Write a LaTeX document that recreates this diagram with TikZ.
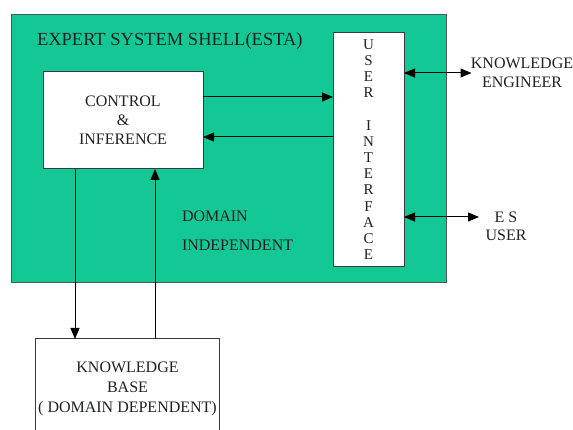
\documentclass[tikz,border=0pt]{standalone}
\usepackage{fontspec}
\setmainfont{Liberation Serif}
\usetikzlibrary{arrows.meta}
\definecolor{shellGreen}{HTML}{14C896}
\definecolor{shellEdge}{HTML}{4A5A55}
\definecolor{boxEdge}{HTML}{3A3A3A}
\definecolor{textDark}{HTML}{1E2220}
\tikzset{
  esta diagram/.style={
    x=1pt, y=-1pt, line width=1pt,
    >={Triangle[length=11pt,width=9pt]},
    every node/.style={text=textDark, inner sep=0pt, outer sep=0pt,
      font=\fontsize{16}{19}\selectfont}
  },
  esta box/.style={draw=boxEdge, fill=white, rectangle, align=center},
  esta link/.style={draw=black, line width=1pt}
}
\begin{document}
\begin{tikzpicture}[esta diagram]
    \useasboundingbox (0,0) rectangle (573,430);
    \node[draw=shellEdge, fill=shellGreen, minimum width=435pt,
      minimum height=268pt] (shell) at (229.2,149) {};
    \node[anchor=west, font=\fontsize{18.5}{20}\selectfont]
      (title) at (37,41) {EXPERT SYSTEM SHELL(ESTA)};
    \node[esta box, minimum width=160pt, minimum height=97pt]
      (control) at (123,120.5) {CONTROL\\\&\\INFERENCE};
    \node[esta box, minimum width=71pt, minimum height=233.5pt,
      font=\fontsize{15}{16.2}\selectfont]
      (ui) at (368.5,149.4)
      {U\\S\\E\\R\\[16.2pt]I\\N\\T\\E\\R\\F\\A\\C\\E};
    \node[esta box, minimum width=183.6pt, minimum height=100pt,
      font=\fontsize{16}{20}\selectfont]
      (kb) at (127.5,389) {KNOWLEDGE\\BASE\\( DOMAIN DEPENDENT)};
    \node[anchor=west, align=left, font=\fontsize{16}{29}\selectfont]
      (domain) at (182,230.5) {DOMAIN\\INDEPENDENT};
    \node[align=center] (engineer) at (522,72.5) {KNOWLEDGE\\ENGINEER};
    \node[align=center, font=\fontsize{16}{18}\selectfont]
      (esuser) at (506,226) {E S\\USER};
    \coordinate (engineerEnd) at (471.5,73);
    \coordinate (esuserEnd) at (479,217);
    % control <-> user interface
    \draw[esta link,->] (control.east |- 0,97) -- (ui.west |- 0,97);
    \draw[esta link,->] (ui.west |- 0,137) -- (control.east |- 0,137);
    % outside users
    \draw[esta link,<->] (ui.east |- engineerEnd) -- (engineerEnd);
    \draw[esta link,<->] (ui.east |- esuserEnd) -- (esuserEnd);
    % knowledge base
    \draw[esta link,->] (control.south -| 75,0) -- (kb.north -| 75,0);
    \draw[esta link,->] (kb.north -| 155,0) -- (control.south -| 155,0);
\end{tikzpicture}
\end{document}
